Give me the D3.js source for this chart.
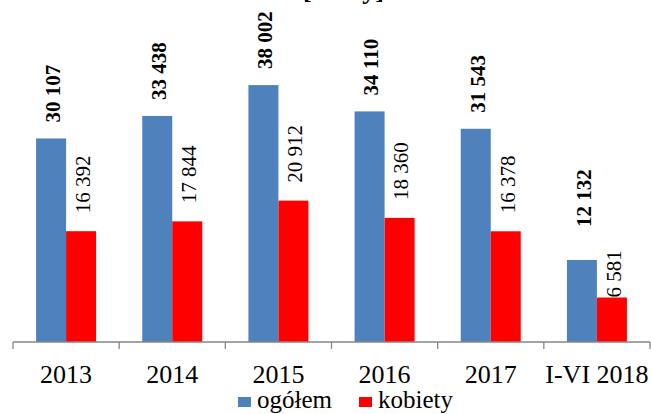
<!DOCTYPE html>
<html>
<head>
<meta charset="utf-8">
<script src="https://cdn.jsdelivr.net/npm/d3@7"></script>
<style>
  body { margin: 0; background: #fff; }
  svg { display: block; }
  svg text { font-family: "Liberation Serif", "Times New Roman", serif; fill: #000; }
</style>
</head>
<body>
<div id="plot"></div>
<script>
// data
const years = ["2013", "2014", "2015", "2016", "2017", "I-VI 2018"];
const ogolem = [30107, 33438, 38002, 34110, 31543, 12132];
const kobiety = [16392, 17844, 20912, 18360, 16378, 6581];
const seriesNames = ["ogółem", "kobiety"];

const width = 651, height = 414;
const colors = { "ogółem": "#4F81BD", "kobiety": "#FF0000" };
const fmt = v => d3.format(",")(v).replace(/,/g, " ");

const svg = d3.select("#plot").append("svg")
  .attr("width", width)
  .attr("height", height);

// scales
const x = d3.scaleBand().domain(years).range([13, 650]).padding(0);
const y = d3.scaleLinear().domain([0, 40000]).range([342, 71.6]);
const barW = 30;

// title, mostly cut off at the top edge (as in the original)
svg.append("text")
  .attr("x", 384).attr("y", -1)
  .attr("text-anchor", "end")
  .style("font-size", "26px")
  .style("font-weight", "bold")
  .text("[osoby]");

const rows = years.map((yr, i) => ({ year: yr, ogolem: ogolem[i], kobiety: kobiety[i] }));

// label nudges for the last group (placed by hand in the original)
const labelGap = { "ogółem": 16, "kobiety": 18 };
const labelNudge = { "I-VI 2018": { "ogółem": 17, "kobiety": -18 } };

const groups = svg.selectAll("g.grp")
  .data(rows)
  .enter().append("g")
  .attr("class", "grp");

groups.each(function (d) {
  const g = d3.select(this);
  const cx = x(d.year) + x.bandwidth() / 2;
  const parts = [
    { name: "ogółem", value: d.ogolem, x0: cx - barW },
    { name: "kobiety", value: d.kobiety, x0: cx }
  ];
  parts.forEach(p => {
    g.append("rect")
      .attr("x", p.x0)
      .attr("y", y(p.value))
      .attr("width", barW)
      .attr("height", y(0) - y(p.value))
      .attr("fill", colors[p.name]);

    const nudge = (labelNudge[d.year] && labelNudge[d.year][p.name]) || 0;
    const ly = y(p.value) - labelGap[p.name] - nudge;
    g.append("text")
      .attr("transform", `translate(${p.x0 + barW / 2 + 1.5},${ly}) rotate(-90)`)
      .attr("dy", "0.35em")
      .style("font-size", "21px")
      .style("font-weight", p.name === "ogółem" ? "bold" : "normal")
      .text(fmt(p.value));
  });
});

// category axis
const axis = svg.append("g")
  .attr("transform", `translate(0,${y(0)})`)
  .call(d3.axisBottom(x).tickSize(0).tickPadding(0));
axis.select(".domain").remove();
axis.selectAll("text")
  .attr("y", 41)
  .attr("dy", 0)
  .style("font-family", "'Liberation Serif', 'Times New Roman', serif")
  .style("font-size", "26px")
  .attr("fill", "#000");

const [x0, x1] = x.range();
svg.append("line")
  .attr("x1", x0).attr("x2", x1)
  .attr("y1", y(0)).attr("y2", y(0))
  .attr("stroke", "#868686").attr("stroke-width", 1.3);

const bounds = years.map(c => x(c)).concat([x1]);
svg.selectAll("line.tick-b")
  .data(bounds)
  .enter().append("line")
  .attr("class", "tick-b")
  .attr("x1", d => d).attr("x2", d => d)
  .attr("y1", y(0)).attr("y2", y(0) + 7)
  .attr("stroke", "#868686").attr("stroke-width", 1.3);

// legend
const legend = svg.append("g");
const legendX = [238, 359];
seriesNames.forEach((name, i) => {
  legend.append("rect")
    .attr("x", legendX[i]).attr("y", 397)
    .attr("width", 13).attr("height", 10)
    .attr("fill", colors[name]);
  legend.append("text")
    .attr("x", legendX[i] + 19).attr("y", 408)
    .style("font-size", "25px")
    .text(name);
});
</script>
</body>
</html>
